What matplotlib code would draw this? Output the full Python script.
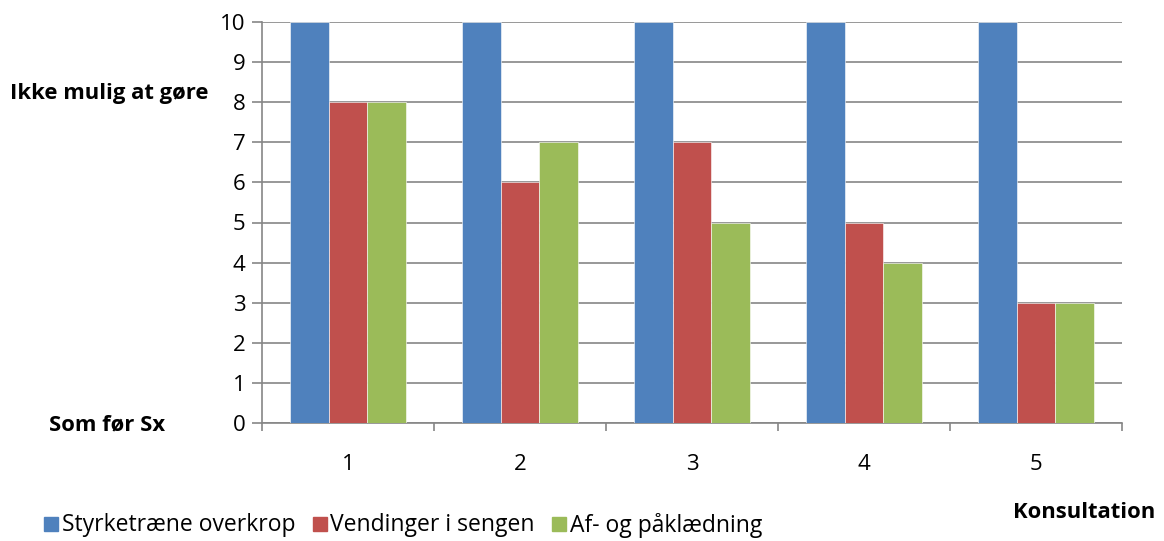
import matplotlib
matplotlib.use('Agg')
import matplotlib.pyplot as plt
from matplotlib.patches import Rectangle
import numpy as np

plt.rcParams['font.family'] = ['Open Sans', 'DejaVu Sans']

# Data
konsultationer = ["1", "2", "3", "4", "5"]
serier = ["Styrketræne overkrop", "Vendinger i sengen", "Af- og påklædning"]
styrke = [10, 10, 10, 10, 10]
vendinger = [8, 6, 7, 5, 3]
paaklaedning = [8, 7, 5, 4, 3]
farver = ["#4F81BD", "#C0504D", "#9BBB59"]

W, H = 1164, 541
fig = plt.figure(figsize=(W / 100, H / 100), dpi=100)
ax = fig.add_axes([262 / W, 1 - 423 / H, (1122 - 262) / W, (423 - 22) / H])

x = np.arange(len(konsultationer))
bw = 0.223
for i, (vals, c) in enumerate(zip([styrke, vendinger, paaklaedning], farver)):
    ax.bar(x + (i - 1) * bw, vals, width=bw, color=c, edgecolor="white",
           linewidth=0.4, zorder=3, label=serier[i])

grid_c = "#868686"
ax.set_xlim(-0.5, len(konsultationer) - 0.5)
ax.set_ylim(0, 10)
ax.set_yticks(range(0, 11))
ax.yaxis.grid(True, color=grid_c, linewidth=1.2, zorder=0)
ax.set_xticks(x)
ax.set_xticklabels(konsultationer)
ax.set_xticks(np.arange(-0.5, len(konsultationer)), minor=True)
ax.tick_params(axis="x", which="major", length=0, pad=22, labelsize=16)
ax.tick_params(axis="x", which="minor", length=6, color=grid_c, width=1.2)
ax.tick_params(axis="y", length=7, color=grid_c, width=1.2, pad=5, labelsize=16)
for s in ["top", "right"]:
    ax.spines[s].set_visible(False)
for s in ["left", "bottom"]:
    ax.spines[s].set_color(grid_c)
    ax.spines[s].set_linewidth(1.2)

# Akse-tekster
fig.text(10 / W, 1 - 94 / H, "Ikke mulig at gøre", fontsize=15.8, fontweight="bold",
         va="center", ha="left")
fig.text(165 / W, 1 - 425 / H, "Som før Sx", fontsize=15.8, fontweight="bold",
         va="center", ha="right")
fig.text(1155 / W, 1 - 512 / H, "Konsultation", fontsize=15.8, fontweight="bold",
         va="center", ha="right")

# Forklaring
xpos = 44
for navn, c in zip(serier, farver):
    fig.patches.append(Rectangle((xpos / W, 1 - 531 / H), 14 / W, 14 / H,
                                 transform=fig.transFigure, color=c))
    t = fig.text((xpos + 18) / W, 1 - 525 / H, navn, fontsize=16.5, va="center", ha="left")
    fig.canvas.draw()
    bb = t.get_window_extent()
    xpos = bb.x1 + 17

fig.savefig("out.png", dpi=100)
